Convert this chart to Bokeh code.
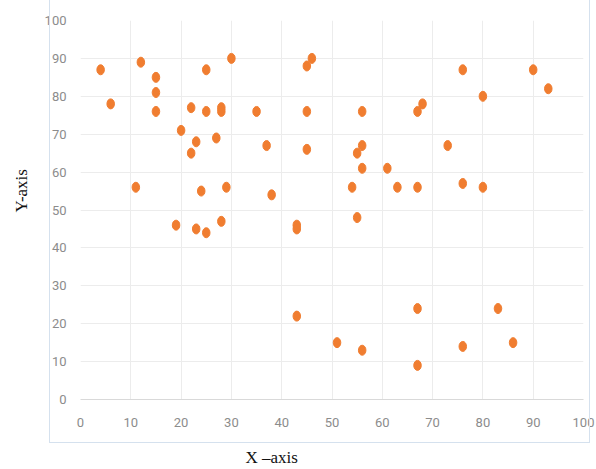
from bokeh.plotting import figure
from bokeh.models import Range1d, FixedTicker, Title, InlineStyleSheet, LinearAxis
from bokeh.embed import file_html
from bokeh.resources import INLINE

# data
x_vals = [4, 6, 12, 15, 15, 15, 11, 20, 22, 22,
          23, 25, 25, 24, 27, 28, 28, 30, 29, 19,
          23, 25, 28, 35, 37, 38, 43, 43, 43, 46,
          45, 45, 45, 56, 56, 55, 56, 54, 61, 63,
          67, 76, 80, 55, 67, 68, 73, 76, 80, 90,
          93, 51, 56, 67, 67, 76, 83, 86]
y_vals = [87, 78, 89, 85, 81, 76, 56, 71, 77, 65,
          68, 87, 76, 55, 69, 77, 76, 90, 56, 46,
          45, 44, 47, 76, 67, 54, 46, 45, 22, 90,
          88, 76, 66, 76, 67, 65, 61, 56, 61, 56,
          56, 57, 56, 48, 76, 78, 67, 87, 80, 87,
          82, 15, 13, 24, 9, 14, 24, 15]
tick_values = [0, 10, 20, 30, 40, 50, 60, 70, 80, 90, 100]
x_title = "X \u2013axis"
y_title = "Y-axis"

p = figure(width=596, height=469, output_backend="svg", toolbar_location=None,
           x_range=Range1d(0, 100), y_range=Range1d(0, 100),
           min_border_left=80, min_border_right=13, min_border_top=20,
           min_border_bottom=69)
p.outline_line_color = None
p.background_fill_color = "white"
p.border_fill_color = "white"

# thin light frame around the chart area (decorative)
p.stylesheets = [InlineStyleSheet(css="""
:host { position: relative; }
:host::after {
  content: ""; position: absolute; pointer-events: none;
  left: 49px; top: -4px; width: 541px; height: 447px;
  box-sizing: border-box; border: 1px solid #d5e1ee;
}
""")]

for ax in (p.xaxis, p.yaxis):
    ax.ticker = FixedTicker(ticks=tick_values)
    ax.major_tick_line_color = None
    ax.minor_tick_line_color = None
    ax.major_label_text_color = "#8c8c8c"
    ax.major_label_text_font = "Roboto"
    ax.major_label_text_font_size = "13px"
p.yaxis.axis_line_color = None
p.xaxis.axis_line_color = "#d9d9d9"
p.xaxis.major_label_standoff = 12
p.yaxis.major_label_standoff = 8

p.xgrid.grid_line_color = "#ececec"
p.ygrid.grid_line_color = "#ececec"
p.xgrid.ticker = FixedTicker(ticks=tick_values)
p.ygrid.ticker = FixedTicker(ticks=tick_values)

p.ellipse(x=x_vals, y=y_vals, width=7.5, height=10,
          width_units="screen", height_units="screen",
          fill_color="#F07D30", line_color="#F07D30")

# x-axis title placed off-centre (as in the reference) via a label-only axis
title_axis = LinearAxis(ticker=FixedTicker(ticks=[38]),
                        major_label_overrides={38: x_title},
                        major_label_standoff=12,
                        axis_line_color=None, major_tick_line_color=None,
                        minor_tick_line_color=None,
                        major_label_text_font="Liberation Serif",
                        major_label_text_font_size="17px",
                        major_label_text_color="#111111")
p.add_layout(title_axis, "below")

p.add_layout(Title(text=y_title, align="left", offset=187, standoff=18,
                   vertical_align="top",
                   text_font="Liberation Serif", text_font_size="17px",
                   text_font_style="normal", text_color="#111111"), "left")

open("out.html", "w").write(file_html(p, INLINE))
